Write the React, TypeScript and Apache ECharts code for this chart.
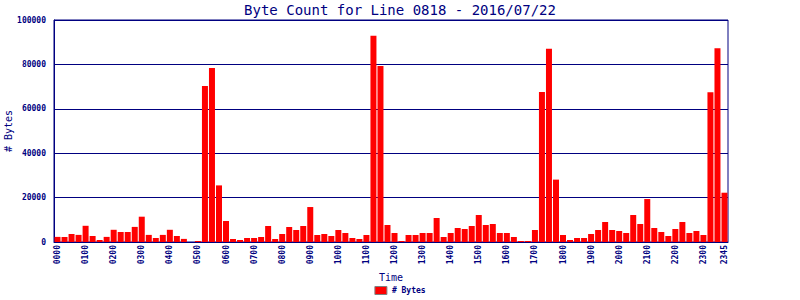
import React, { useEffect, useRef } from "react";
import * as echarts from "echarts";

const NAVY = "#000080";

// 15-minute time slots, 0000 .. 2345
const hours = ["00","01","02","03","04","05","06","07","08","09","10","11","12","13","14","15","16","17","18","19","20","21","22","23"];
const quarters = ["00", "15", "30", "45"];
const timeSlots: string[] = [];
for (const h of hours) for (const q of quarters) timeSlots.push(h + q);

const byteCounts = [
  2300, 2300, 3600, 3200, 7300, 2700, 900, 2300, 5500, 4500, 4500, 6800,
  11400, 3200, 1800, 3200, 5500, 2700, 1400, 0, 450, 70300, 78400, 25500,
  9450, 1350, 900, 1800, 1800, 2250, 7200, 1350, 3600, 6750, 5400, 7200,
  15750, 3150, 3600, 2700, 5400, 4050, 1800, 1350, 3150, 92900, 79300, 7650,
  4050, 450, 3150, 3150, 4050, 4050, 10800, 2250, 4050, 6300, 5850, 7200,
  12150, 7650, 8100, 4050, 4050, 2250, 450, 450, 5400, 67600, 87000, 28100,
  3150, 900, 1800, 1800, 3600, 5400, 9000, 5400, 4950, 4050, 12150, 8100,
  19350, 6300, 4500, 2700, 5850, 9000, 4050, 4950, 3150, 67500, 87300, 22200,
];

const titleText = "Byte Count for Line 0818 - 2016/07/22";
const seriesName = "# Bytes";

export default function App() {
  const ref = useRef<HTMLDivElement>(null);
  useEffect(() => {
    if (!ref.current) return;
    const chart = echarts.init(ref.current, null, { renderer: "svg" });
    const mono = "'DejaVu Sans Mono', monospace";
    chart.setOption({
      animation: false,
      backgroundColor: "#ffffff",
      title: {
        text: titleText,
        left: "center",
        top: -2,
        textStyle: { color: NAVY, fontFamily: mono, fontSize: 14, fontWeight: "normal" },
      },
      legend: {
        bottom: 0,
        left: "center",
        itemWidth: 12,
        itemHeight: 8,
        icon: "rect",
        itemStyle: { borderColor: "#808080", borderWidth: 1 },
        textStyle: { color: NAVY, fontFamily: mono, fontSize: 8, fontWeight: "bold" },
        data: [seriesName],
      },
      grid: {
        left: 54,
        top: 20,
        width: 674,
        height: 222,
        outerBoundsMode: "none",
        containLabel: false,
        show: true,
        borderColor: NAVY,
        borderWidth: 1,
        backgroundColor: "transparent",
      },
      xAxis: {
        type: "category",
        data: timeSlots,
        boundaryGap: true,
        name: "Time",
        nameLocation: "middle",
        nameGap: 30,
        nameMoveOverlap: false,
        nameTextStyle: { color: NAVY, fontFamily: mono, fontSize: 10 },
        axisLine: { show: true, lineStyle: { color: NAVY, width: 1 } },
        axisTick: { show: false },
        axisLabel: {
          rotate: 90,
          interval: (idx: number) => idx % 4 === 0 || idx === timeSlots.length - 1,
          color: NAVY,
          fontFamily: mono,
          fontSize: 8,
          fontWeight: "bold",
          margin: 3,
        },
        splitLine: { show: false },
      },
      yAxis: {
        type: "value",
        min: 0,
        max: 100000,
        interval: 20000,
        name: "# Bytes",
        nameLocation: "middle",
        nameGap: 46,
        nameMoveOverlap: false,
        nameTextStyle: { color: NAVY, fontFamily: mono, fontSize: 10, verticalAlign: "middle" },
        axisLine: { show: true, lineStyle: { color: NAVY, width: 1 } },
        axisTick: { show: false },
        axisLabel: {
          color: NAVY,
          fontFamily: mono,
          fontSize: 8,
          fontWeight: "bold",
          margin: 8,
          formatter: (v: number) => String(v),
        },
        splitLine: { show: true, lineStyle: { color: NAVY, width: 1 } },
      },
      series: [
        {
          name: seriesName,
          type: "bar",
          data: byteCounts,
          barWidth: 6,
          itemStyle: { color: "#ff0000" },
        },
      ],
    });
    return () => chart.dispose();
  }, []);
  return (
    <div
      ref={ref}
      style={{ position: "fixed", left: 0, top: 0, width: 800, height: 300, background: "#fff" }}
    />
  );
}
